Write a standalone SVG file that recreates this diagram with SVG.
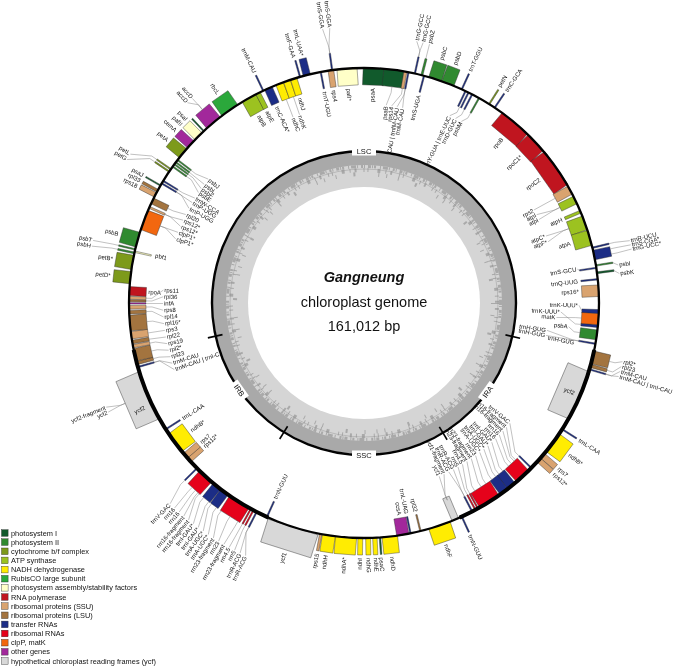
<svg xmlns="http://www.w3.org/2000/svg" width="685" height="666" viewBox="0 0 685 666">
<style>
text{font-family:"Liberation Sans",Arial,Helvetica,sans-serif;fill:#111}
.l{font-size:6px}
.e{text-anchor:end}
.lg{font-size:7.4px}
#genes rect,#legend rect{stroke:#2a2a2a;stroke-width:.4}
.k{fill:none;stroke:#808080;stroke-width:.45}
.p1{fill:#10592b}.p2{fill:#2f8a2f}.cy{fill:#7c9a1a}.at{fill:#9cc21f}.nd{fill:#ffec00}.rb{fill:#2aa83a}.pf{fill:#ffffc8}.rp{fill:#c0141e}.ss{fill:#d9a36e}.ls{fill:#a3733e}.tr{fill:#1b2c86}.rr{fill:#e5001a}.cl{fill:#f2660e}.ot{fill:#a2279b}.yc{fill:#d8d8d8}
</style>
<rect width="685" height="666" fill="#fff"/>
<g opacity="0.995">
<g id="legend">
<rect class="p1" x="1.5" y="529.7" width="6.6" height="6.6"/><text class="lg" x="11" y="535.6">photosystem I</text>
<rect class="p2" x="1.5" y="538.8" width="6.6" height="6.6"/><text class="lg" x="11" y="544.7">photosystem II</text>
<rect class="cy" x="1.5" y="548" width="6.6" height="6.6"/><text class="lg" x="11" y="553.9">cytochrome b/f complex</text>
<rect class="at" x="1.5" y="557.1" width="6.6" height="6.6"/><text class="lg" x="11" y="563">ATP synthase</text>
<rect class="nd" x="1.5" y="566.3" width="6.6" height="6.6"/><text class="lg" x="11" y="572.2">NADH dehydrogenase</text>
<rect class="rb" x="1.5" y="575.4" width="6.6" height="6.6"/><text class="lg" x="11" y="581.3">RubisCO large subunit</text>
<rect class="pf" x="1.5" y="584.5" width="6.6" height="6.6"/><text class="lg" x="11" y="590.4">photosystem assembly/stability factors</text>
<rect class="rp" x="1.5" y="593.7" width="6.6" height="6.6"/><text class="lg" x="11" y="599.6">RNA polymerase</text>
<rect class="ss" x="1.5" y="602.8" width="6.6" height="6.6"/><text class="lg" x="11" y="608.7">ribosomal proteins (SSU)</text>
<rect class="ls" x="1.5" y="612" width="6.6" height="6.6"/><text class="lg" x="11" y="617.9">ribosomal proteins (LSU)</text>
<rect class="tr" x="1.5" y="621.1" width="6.6" height="6.6"/><text class="lg" x="11" y="627">transfer RNAs</text>
<rect class="rr" x="1.5" y="630.2" width="6.6" height="6.6"/><text class="lg" x="11" y="636.1">ribosomal RNAs</text>
<rect class="cl" x="1.5" y="639.4" width="6.6" height="6.6"/><text class="lg" x="11" y="645.3">clpP, matK</text>
<rect class="ot" x="1.5" y="648.5" width="6.6" height="6.6"/><text class="lg" x="11" y="654.4">other genes</text>
<rect class="yc" x="1.5" y="657.7" width="6.6" height="6.6"/><text class="lg" x="11" y="663.6">hypothetical chloroplast reading frames (ycf)</text>
</g>
<g id="genes">
<g id="psaA"><rect class="p1" x="353.55" y="68" width="20.9" height="17" transform="rotate(2.35 364 303)"/><text class="l e" x="579" y="305" transform="rotate(-87.65 364 303)">psaA</text></g>
<g id="psaB"><rect class="p1" x="353.95" y="68" width="20.1" height="17" transform="rotate(7.35 364 303)"/><text class="l e" x="562" y="305" transform="rotate(-83.6 364 303)">psaB</text></g>
<g id="rps14"><rect class="ss" x="362.55" y="68" width="2.9" height="17" transform="rotate(10.15 364 303)"/><text class="l e" x="562" y="305" transform="rotate(-82 364 303)">rps14</text></g>
<g id="trnfM-CAU"><rect class="tr" x="363.3" y="68" width="1.4" height="17" transform="rotate(10.9 364 303)"/><text class="l e" x="562" y="305" transform="rotate(-80.4 364 303)">trnM-CAU | trnfM-CAU</text><text class="l e" x="562" y="305" transform="rotate(-78.8 364 303)">trnM-CAU</text></g>
<g id="trnG-GCC"><rect class="tr" x="363.3" y="51" width="1.4" height="17" transform="rotate(12.5 364 303)"/><text class="l" x="632" y="305" transform="rotate(-78.6 364 303)">trnG-GCC</text><text class="l" x="632" y="305" transform="rotate(-77.2 364 303)">trnG-GCC</text></g>
<g id="psbZ"><rect class="p2" x="363" y="51" width="2" height="17" transform="rotate(14.25 364 303)"/><text class="l" x="632" y="305" transform="rotate(-75.8 364 303)">psbZ</text></g>
<g id="trnS-UGA"><rect class="tr" x="363.3" y="68" width="1.4" height="17" transform="rotate(14.8 364 303)"/><text class="l e" x="579" y="305" transform="rotate(-75.2 364 303)">trnS-UGA</text></g>
<g id="psbC"><rect class="p2" x="357.25" y="51" width="13.5" height="17" transform="rotate(17.65 364 303)"/><text class="l" x="619" y="305" transform="rotate(-72.35 364 303)">psbC</text></g>
<g id="psbD"><rect class="p2" x="357.45" y="51" width="13.1" height="17" transform="rotate(20.9 364 303)"/><text class="l" x="619" y="305" transform="rotate(-69.1 364 303)">psbD</text></g>
<g id="trnT-GGU"><rect class="tr" x="363.3" y="51" width="1.4" height="17" transform="rotate(24.6 364 303)"/><text class="l" x="619" y="305" transform="rotate(-65.4 364 303)">trnT-GGU</text></g>
<g id="trnE-trnY"><rect class="tr" x="363.3" y="68" width="1.4" height="17" transform="rotate(25.6 364 303)"/><rect class="tr" x="363.3" y="68" width="1.4" height="17" transform="rotate(26.4 364 303)"/><text class="l e" x="569" y="305" transform="rotate(-65.4 364 303)">trnY-GUA | trnE-UUC</text></g>
<g id="trnD-GUC"><rect class="tr" x="363.3" y="68" width="1.4" height="17" transform="rotate(27.4 364 303)"/><text class="l e" x="569" y="305" transform="rotate(-63.6 364 303)">trnD-GUC</text></g>
<g id="psbM"><rect class="p2" x="363.3" y="68" width="1.4" height="17" transform="rotate(29.3 364 303)"/><text class="l e" x="569" y="305" transform="rotate(-61.8 364 303)">psbM</text></g>
<g id="petN"><rect class="cy" x="363.3" y="51" width="1.4" height="17" transform="rotate(32.2 364 303)"/><text class="l" x="619" y="305" transform="rotate(-58 364 303)">petN</text></g>
<g id="trnC-GCA"><rect class="tr" x="363.3" y="51" width="1.4" height="17" transform="rotate(33.8 364 303)"/><text class="l" x="619" y="305" transform="rotate(-56.1 364 303)">trnC-GCA</text></g>
<g id="rpoB"><rect class="rp" x="347.6" y="68" width="32.8" height="17" transform="rotate(40 364 303)"/><text class="l e" x="579" y="305" transform="rotate(-50 364 303)">rpoB</text></g>
<g id="rpoC1"><rect class="rp" x="353.15" y="68" width="21.7" height="17" transform="rotate(46.95 364 303)"/><text class="l e" x="579" y="305" transform="rotate(-43.05 364 303)">rpoC1*</text></g>
<g id="rpoC2"><rect class="rp" x="343.9" y="68" width="40.2" height="17" transform="rotate(54.9 364 303)"/><text class="l e" x="579" y="305" transform="rotate(-35.1 364 303)">rpoC2</text></g>
<g id="rps2"><rect class="ss" x="359.5" y="68" width="9" height="17" transform="rotate(61.3 364 303)"/><text class="l e" x="557" y="305" transform="rotate(-28.7 364 303)">rps2</text></g>
<g id="atpI"><rect class="at" x="359.9" y="68" width="8.2" height="17" transform="rotate(64 364 303)"/><text class="l e" x="557" y="305" transform="rotate(-27.1 364 303)">atpI</text><text class="l e" x="557" y="305" transform="rotate(-25.5 364 303)">atpI</text></g>
<g id="atpH"><rect class="at" x="362.55" y="68" width="2.9" height="17" transform="rotate(67.15 364 303)"/><text class="l e" x="579" y="305" transform="rotate(-22.85 364 303)">atpH</text></g>
<g id="atpF"><rect class="at" x="356.8" y="68" width="14.4" height="17" transform="rotate(70.05 364 303)"/><text class="l e" x="557" y="305" transform="rotate(-20.2 364 303)">atpC*</text><text class="l e" x="557" y="305" transform="rotate(-18.4 364 303)">atpF*</text></g>
<g id="atpA"><rect class="at" x="356.2" y="68" width="15.6" height="17" transform="rotate(73.9 364 303)"/><text class="l e" x="579" y="305" transform="rotate(-16.1 364 303)">atpA</text></g>
<g id="trnR-UCU"><rect class="tr" x="363.3" y="51" width="1.4" height="17" transform="rotate(76.4 364 303)"/><text class="l" x="638" y="305" transform="rotate(-13.2 364 303)">trnR-UCU</text></g>
<g id="trnG-UCC"><rect class="tr" x="359.1" y="51" width="9.8" height="17" transform="rotate(78.2 364 303)"/><text class="l" x="638" y="305" transform="rotate(-12.3 364 303)">trnS-CGA*</text><text class="l" x="638" y="305" transform="rotate(-11.4 364 303)">trnG-UCC*</text></g>
<g id="psbI"><rect class="p2" x="363.3" y="51" width="1.4" height="17" transform="rotate(80.8 364 303)"/><text class="l" x="622" y="305" transform="rotate(-8.5 364 303)">psbI</text></g>
<g id="trnS-GCU"><rect class="tr" x="363.3" y="68" width="1.4" height="17" transform="rotate(81.4 364 303)"/><text class="l e" x="579" y="305" transform="rotate(-9 364 303)">trnS-GCU</text></g>
<g id="psbK"><rect class="p1" x="363.1" y="51" width="1.8" height="17" transform="rotate(82.6 364 303)"/><text class="l" x="622" y="305" transform="rotate(-6.6 364 303)">psbK</text></g>
<g id="trnQ-UUG"><rect class="tr" x="363.3" y="68" width="1.4" height="17" transform="rotate(84.2 364 303)"/><text class="l e" x="579" y="305" transform="rotate(-5.7 364 303)">trnQ-UUG</text></g>
<g id="rps16"><rect class="ss" x="358.25" y="68" width="11.5" height="17" transform="rotate(87 364 303)"/><text class="l e" x="579" y="305" transform="rotate(-3 364 303)">rps16*</text></g>
<g id="trnK-UUU"><rect class="tr" x="361.95" y="68" width="4.1" height="17" transform="rotate(92.1 364 303)"/><rect class="tr" x="362.55" y="68" width="2.9" height="17" transform="rotate(95.65 364 303)"/><text class="l e" x="578" y="305" transform="rotate(0.6 364 303)">trnK-UUU*</text><text class="l e" x="560" y="305" transform="rotate(2.6 364 303)">trnK-UUU*</text></g>
<g id="matK"><rect class="cl" x="358.45" y="68" width="11.1" height="17" transform="rotate(93.95 364 303)"/><text class="l e" x="556" y="305" transform="rotate(4.3 364 303)">matK</text></g>
<g id="psbA"><rect class="p2" x="359.1" y="68" width="9.8" height="17" transform="rotate(97.8 364 303)"/><text class="l e" x="569" y="305" transform="rotate(6.6 364 303)">psbA</text></g>
<g id="trnH-GUG"><rect class="tr" x="363.3" y="68" width="1.4" height="17" transform="rotate(100 364 303)"/><text class="l e" x="548" y="305" transform="rotate(8.5 364 303)">trnH-GUG</text><text class="l e" x="548" y="305" transform="rotate(10.1 364 303)">trnH-GUG</text><text class="l e" x="578" y="305" transform="rotate(10.7 364 303)">trnH-GUG</text></g>
<g id="rpl2-IRA"><rect class="ls" x="357.45" y="51" width="13.1" height="17" transform="rotate(103.4 364 303)"/><text class="l" x="630" y="305" transform="rotate(12.8 364 303)">rpl2*</text></g>
<g id="rpl23-IRA"><rect class="ls" x="362.35" y="51" width="3.3" height="17" transform="rotate(105.5 364 303)"/><text class="l" x="630" y="305" transform="rotate(13.9 364 303)">rpl23</text></g>
<g id="trnI-CAU-IRA"><rect class="tr" x="363.3" y="51" width="1.4" height="17" transform="rotate(106.4 364 303)"/><text class="l" x="630" y="305" transform="rotate(15 364 303)">trnM-CAU</text><text class="l" x="630" y="305" transform="rotate(16.1 364 303)">trnM-CAU | trnI-CAU</text></g>
<g id="ycf2-IRA"><rect class="yc" x="338.35" y="68" width="51.3" height="24" transform="rotate(113.25 364 303)"/><text class="l e" x="593" y="305" transform="rotate(23.25 364 303)">ycf2</text></g>
<g id="trnL-CAA-IRA"><rect class="tr" x="363.3" y="51" width="1.4" height="17" transform="rotate(122.5 364 303)"/><text class="l" x="619" y="305" transform="rotate(32.5 364 303)">trnL-CAA</text></g>
<g id="ndhB-IRA"><rect class="nd" x="352.95" y="51" width="22.1" height="17" transform="rotate(126.5 364 303)"/><text class="l" x="619" y="305" transform="rotate(36.5 364 303)">ndhB*</text></g>
<g id="rps7-IRA"><rect class="ss" x="360.9" y="51" width="6.2" height="17" transform="rotate(130.55 364 303)"/><text class="l" x="619" y="305" transform="rotate(40.4 364 303)">rps7</text></g>
<g id="rps12-IRA"><rect class="ss" x="361.35" y="51" width="5.3" height="17" transform="rotate(131.95 364 303)"/><text class="l" x="619" y="305" transform="rotate(42 364 303)">rps12*</text></g>
<g id="trnV-GAC-IRA"><rect class="tr" x="363.3" y="68" width="1.4" height="17" transform="rotate(134.6 364 303)"/><text class="l e" x="552" y="305" transform="rotate(39.5 364 303)">trnV-GAC</text></g>
<g id="rrn16-IRA"><rect class="rr" x="355.8" y="68" width="16.4" height="17" transform="rotate(137.5 364 303)"/><text class="l e" x="552" y="305" transform="rotate(41.09 364 303)">rrn16-fragment</text><text class="l e" x="552" y="305" transform="rotate(42.68 364 303)">rrn16-fragment</text><text class="l e" x="552" y="305" transform="rotate(44.27 364 303)">rrn16</text><text class="l e" x="552" y="305" transform="rotate(45.86 364 303)">rrn16</text></g>
<g id="trnI-GAU-IRA"><rect class="tr" x="359.3" y="68" width="9.4" height="17" transform="rotate(141.15 364 303)"/><text class="l e" x="552" y="305" transform="rotate(47.45 364 303)">trnI-GAU*</text><text class="l e" x="552" y="305" transform="rotate(49.04 364 303)">trnI-GAU*</text></g>
<g id="trnA-UGC-IRA"><rect class="tr" x="359.3" y="68" width="9.4" height="17" transform="rotate(143.45 364 303)"/><text class="l e" x="552" y="305" transform="rotate(50.63 364 303)">trnA-UGC*</text><text class="l e" x="552" y="305" transform="rotate(52.22 364 303)">trnA-UGC*</text></g>
<g id="rrn23-IRA"><rect class="rr" x="352.7" y="68" width="22.6" height="17" transform="rotate(147.75 364 303)"/><text class="l e" x="552" y="305" transform="rotate(53.81 364 303)">rrn23</text><text class="l e" x="552" y="305" transform="rotate(55.4 364 303)">rrn23-fragment</text><text class="l e" x="552" y="305" transform="rotate(56.99 364 303)">rrn23-fragment</text></g>
<g id="rrn4.5-IRA"><rect class="rr" x="363.3" y="68" width="1.4" height="17" transform="rotate(151 364 303)"/><text class="l e" x="552" y="305" transform="rotate(58.58 364 303)">rrn4.5</text></g>
<g id="rrn5-IRA"><rect class="rr" x="363.3" y="68" width="1.4" height="17" transform="rotate(151.7 364 303)"/><text class="l e" x="552" y="305" transform="rotate(60.17 364 303)">rrn5</text></g>
<g id="trnR-ACG-IRA"><rect class="tr" x="363.3" y="68" width="1.4" height="17" transform="rotate(152.6 364 303)"/><text class="l e" x="552" y="305" transform="rotate(61.76 364 303)">trnR-ACG</text><text class="l e" x="552" y="305" transform="rotate(63.35 364 303)">trnR-ACG</text></g>
<g id="trnN-GUU-IRA"><rect class="tr" x="363.3" y="51" width="1.4" height="17" transform="rotate(155.4 364 303)"/><text class="l" x="619" y="305" transform="rotate(65.5 364 303)">trnN-GUU</text></g>
<g id="ycf1-fragment"><rect class="yc" x="360.5" y="68" width="7" height="24" transform="rotate(157.15 364 303)"/><text class="l e" x="552" y="305" transform="rotate(64.94 364 303)">ycf1-fragment</text><text class="l e" x="552" y="305" transform="rotate(66.53 364 303)">ycf1</text></g>
<g id="ndhF"><rect class="nd" x="352.7" y="51" width="22.6" height="17" transform="rotate(161.25 364 303)"/><text class="l" x="619" y="305" transform="rotate(71.25 364 303)">ndhF</text></g>
<g id="rpl32"><rect class="ls" x="363.3" y="68" width="1.4" height="17" transform="rotate(166.1 364 303)"/><text class="l e" x="579" y="305" transform="rotate(76.1 364 303)">rpl32</text></g>
<g id="trnL-UAG"><rect class="tr" x="363.3" y="68" width="1.4" height="17" transform="rotate(168.6 364 303)"/><text class="l e" x="579" y="305" transform="rotate(78.6 364 303)">trnL-UAG</text></g>
<g id="ccsA"><rect class="ot" x="357.85" y="68" width="12.3" height="17" transform="rotate(170.5 364 303)"/><text class="l e" x="579" y="305" transform="rotate(80.5 364 303)">ccsA</text></g>
<g id="ndhD"><rect class="nd" x="356.2" y="51" width="15.6" height="17" transform="rotate(173.7 364 303)"/><text class="l" x="619" y="305" transform="rotate(83.7 364 303)">ndhD</text></g>
<g id="psaC"><rect class="p1" x="363.2" y="51" width="1.6" height="17" transform="rotate(176.1 364 303)"/><text class="l" x="619" y="305" transform="rotate(86.1 364 303)">psaC</text></g>
<g id="ndhE"><rect class="nd" x="361.75" y="51" width="4.5" height="17" transform="rotate(177.35 364 303)"/><text class="l" x="619" y="305" transform="rotate(87.35 364 303)">ndhE</text></g>
<g id="ndhG"><rect class="nd" x="361.55" y="51" width="4.9" height="17" transform="rotate(179 364 303)"/><text class="l" x="619" y="305" transform="rotate(89 364 303)">ndhG</text></g>
<g id="ndhI"><rect class="nd" x="361.55" y="51" width="4.9" height="17" transform="rotate(180.9 364 303)"/><text class="l e" x="109" y="305" transform="rotate(-89.1 364 303)">ndhI</text></g>
<g id="ndhA"><rect class="nd" x="353.35" y="51" width="21.3" height="17" transform="rotate(184.4 364 303)"/><text class="l e" x="109" y="305" transform="rotate(-85.6 364 303)">ndhA*</text></g>
<g id="ndhH"><rect class="nd" x="357.45" y="51" width="13.1" height="17" transform="rotate(188.6 364 303)"/><text class="l e" x="109" y="305" transform="rotate(-81.4 364 303)">ndhH</text></g>
<g id="rps15"><rect class="ss" x="362.75" y="51" width="2.5" height="17" transform="rotate(190.6 364 303)"/><text class="l e" x="109" y="305" transform="rotate(-79.4 364 303)">rps15</text></g>
<g id="ycf1"><rect class="yc" x="337.75" y="44" width="52.5" height="24" transform="rotate(197.6 364 303)"/><text class="l e" x="102" y="305" transform="rotate(-72.4 364 303)">ycf1</text></g>
<g id="trnN-GUU-IRB"><rect class="tr" x="363.3" y="68" width="1.4" height="17" transform="rotate(204.4 364 303)"/><text class="l" x="149" y="305" transform="rotate(-65.6 364 303)">trnN-GUU</text></g>
<g id="trnR-ACG-IRB"><rect class="tr" x="363.3" y="51" width="1.4" height="17" transform="rotate(207.2 364 303)"/><text class="l e" x="84" y="305" transform="rotate(-63.64 364 303)">trnR-ACG</text><text class="l e" x="84" y="305" transform="rotate(-64.9 364 303)">trnR-ACG</text></g>
<g id="rrn5-IRB"><rect class="rr" x="363.3" y="51" width="1.4" height="17" transform="rotate(208.1 364 303)"/><text class="l e" x="84" y="305" transform="rotate(-62.38 364 303)">rrn5</text></g>
<g id="rrn4.5-IRB"><rect class="rr" x="363.3" y="51" width="1.4" height="17" transform="rotate(208.8 364 303)"/><text class="l e" x="84" y="305" transform="rotate(-61.12 364 303)">rrn4.5</text></g>
<g id="rrn23-IRB"><rect class="rr" x="352.5" y="51" width="23" height="17" transform="rotate(212.1 364 303)"/><text class="l e" x="84" y="305" transform="rotate(-57.34 364 303)">rrn23-fragment</text><text class="l e" x="84" y="305" transform="rotate(-58.6 364 303)">rrn23</text><text class="l e" x="84" y="305" transform="rotate(-59.86 364 303)">rrn23-fragment</text></g>
<g id="trnA-UGC-IRB"><rect class="tr" x="359.3" y="51" width="9.4" height="17" transform="rotate(216.45 364 303)"/><text class="l e" x="84" y="305" transform="rotate(-54.82 364 303)">trnA-UGC*</text><text class="l e" x="84" y="305" transform="rotate(-56.08 364 303)">trnA-UGC*</text></g>
<g id="trnI-GAU-IRB"><rect class="tr" x="359.3" y="51" width="9.4" height="17" transform="rotate(218.75 364 303)"/><text class="l e" x="84" y="305" transform="rotate(-52.3 364 303)">trnI-GAU*</text><text class="l e" x="84" y="305" transform="rotate(-53.56 364 303)">trnI-GAU*</text></g>
<g id="rrn16-IRB"><rect class="rr" x="355.8" y="51" width="16.4" height="17" transform="rotate(222.4 364 303)"/><text class="l e" x="84" y="305" transform="rotate(-47.26 364 303)">rrn16</text><text class="l e" x="84" y="305" transform="rotate(-48.52 364 303)">rrn16</text><text class="l e" x="84" y="305" transform="rotate(-49.78 364 303)">rrn16-fragment</text><text class="l e" x="84" y="305" transform="rotate(-51.04 364 303)">rrn16-fragment</text></g>
<g id="trnV-GAC-IRB"><rect class="tr" x="363.3" y="51" width="1.4" height="17" transform="rotate(225.3 364 303)"/><text class="l e" x="84" y="305" transform="rotate(-46 364 303)">trnV-GAC</text></g>
<g id="rps12-IRB"><rect class="ss" x="361.35" y="68" width="5.3" height="17" transform="rotate(228.05 364 303)"/><text class="l" x="149" y="305" transform="rotate(-41.95 364 303)">rps12*</text></g>
<g id="rps7-IRB"><rect class="ss" x="360.9" y="68" width="6.2" height="17" transform="rotate(229.45 364 303)"/><text class="l" x="149" y="305" transform="rotate(-40.55 364 303)">rps7</text></g>
<g id="ndhB-IRB"><rect class="nd" x="352.95" y="68" width="22.1" height="17" transform="rotate(233.5 364 303)"/><text class="l" x="149" y="305" transform="rotate(-36.5 364 303)">ndhB*</text></g>
<g id="trnL-CAA-IRB"><rect class="tr" x="363.3" y="68" width="1.4" height="17" transform="rotate(237.5 364 303)"/><text class="l" x="149" y="305" transform="rotate(-32.5 364 303)">trnL-CAA</text></g>
<g id="ycf2-IRB"><rect class="yc" x="338.35" y="44" width="51.3" height="24" transform="rotate(246.75 364 303)"/><text class="l e" x="121" y="305" transform="rotate(-25.5 364 303)">ycf2</text><text class="l e" x="85" y="305" transform="rotate(-22 364 303)">ycf2-fragment</text><text class="l e" x="85" y="305" transform="rotate(-23.1 364 303)">ycf2</text></g>
<g id="trnI-CAU-IRB"><rect class="tr" x="363.3" y="68" width="1.4" height="17" transform="rotate(254.2 364 303)"/><text class="l" x="164" y="305" transform="rotate(-17.42 364 303)">trnM-CAU</text><text class="l" x="164" y="305" transform="rotate(-19.34 364 303)">trnM-CAU | trnI-CAU</text></g>
<g id="rpl23-IRB"><rect class="ls" x="362.35" y="68" width="3.3" height="17" transform="rotate(255.2 364 303)"/><text class="l" x="164" y="305" transform="rotate(-15.5 364 303)">rpl23</text></g>
<g id="rpl2-IRB"><rect class="ls" x="357.65" y="68" width="12.7" height="17" transform="rotate(257.25 364 303)"/><text class="l" x="164" y="305" transform="rotate(-13.58 364 303)">rpl2*</text></g>
<g id="rps19"><rect class="ss" x="362.35" y="68" width="3.3" height="17" transform="rotate(259.4 364 303)"/><text class="l" x="164" y="305" transform="rotate(-11.66 364 303)">rps19</text></g>
<g id="rpl22"><rect class="ls" x="362.15" y="68" width="3.7" height="17" transform="rotate(260.45 364 303)"/><text class="l" x="164" y="305" transform="rotate(-9.74 364 303)">rpl22</text></g>
<g id="rps3"><rect class="ss" x="360.3" y="68" width="7.4" height="17" transform="rotate(262.1 364 303)"/><text class="l" x="164" y="305" transform="rotate(-7.82 364 303)">rps3</text></g>
<g id="rpl16"><rect class="ls" x="356.2" y="68" width="15.6" height="17" transform="rotate(265.1 364 303)"/><text class="l" x="164" y="305" transform="rotate(-5.9 364 303)">rpl16*</text></g>
<g id="rpl14"><rect class="ls" x="362.15" y="68" width="3.7" height="17" transform="rotate(267.75 364 303)"/><text class="l" x="164" y="305" transform="rotate(-3.98 364 303)">rpl14</text></g>
<g id="rps8"><rect class="ss" x="362.15" y="68" width="3.7" height="17" transform="rotate(268.95 364 303)"/><text class="l" x="164" y="305" transform="rotate(-2.06 364 303)">rps8</text></g>
<g id="infA"><rect class="ot" x="363.3" y="68" width="1.4" height="17" transform="rotate(269.9 364 303)"/><text class="l" x="164" y="305" transform="rotate(-0.14 364 303)">infA</text></g>
<g id="rpl36"><rect class="ls" x="363" y="68" width="2" height="17" transform="rotate(270.55 364 303)"/><text class="l" x="164" y="305" transform="rotate(1.78 364 303)">rpl36</text></g>
<g id="rps11"><rect class="ss" x="362.55" y="68" width="2.9" height="17" transform="rotate(271.25 364 303)"/><text class="l" x="164" y="305" transform="rotate(3.7 364 303)">rps11</text></g>
<g id="rpoA"><rect class="rp" x="359.5" y="68" width="9" height="17" transform="rotate(272.9 364 303)"/><text class="l" x="148" y="305" transform="rotate(2.9 364 303)">rpoA</text></g>
<g id="petD"><rect class="cy" x="357.85" y="51" width="12.3" height="17" transform="rotate(276.2 364 303)"/><text class="l e" x="109" y="305" transform="rotate(6.2 364 303)">petD*</text></g>
<g id="petB"><rect class="cy" x="356.8" y="51" width="14.4" height="17" transform="rotate(279.95 364 303)"/><text class="l e" x="109" y="305" transform="rotate(9.95 364 303)">petB*</text></g>
<g id="psbH"><rect class="p2" x="363.1" y="51" width="1.8" height="17" transform="rotate(282.3 364 303)"/><text class="l e" x="85" y="305" transform="rotate(11.8 364 303)">psbH</text></g>
<g id="pbf1"><rect class="pf" x="363.3" y="68" width="1.4" height="17" transform="rotate(282.6 364 303)"/><text class="l" x="150" y="305" transform="rotate(12.8 364 303)">pbf1</text></g>
<g id="psbT"><rect class="p2" x="363.3" y="51" width="1.4" height="17" transform="rotate(283.2 364 303)"/><text class="l e" x="85" y="305" transform="rotate(13 364 303)">psbT</text></g>
<g id="psbB"><rect class="p2" x="356.4" y="51" width="15.2" height="17" transform="rotate(285.65 364 303)"/><text class="l e" x="109" y="305" transform="rotate(15.65 364 303)">psbB</text></g>
<g id="clpP"><rect class="cl" x="353.75" y="68" width="20.5" height="17" transform="rotate(290.7 364 303)"/><text class="l" x="166" y="305" transform="rotate(20.8 364 303)">clpP1*</text><text class="l" x="166" y="305" transform="rotate(18.8 364 303)">clpP1*</text></g>
<g id="rps12-5"><rect class="ss" x="363" y="68" width="2" height="17" transform="rotate(294 364 303)"/><text class="l" x="166" y="305" transform="rotate(24.6 364 303)">rps12*</text><text class="l" x="166" y="305" transform="rotate(22.7 364 303)">rps12*</text></g>
<g id="rpl20"><rect class="ls" x="360.9" y="68" width="6.2" height="17" transform="rotate(295.75 364 303)"/><text class="l" x="166" y="305" transform="rotate(26.4 364 303)">rpl20</text></g>
<g id="rps18"><rect class="ss" x="361.55" y="51" width="4.9" height="17" transform="rotate(297.4 364 303)"/><text class="l e" x="109" y="305" transform="rotate(27.2 364 303)">rps18</text></g>
<g id="rpl33"><rect class="ls" x="362.55" y="51" width="2.9" height="17" transform="rotate(298.55 364 303)"/><text class="l e" x="109" y="305" transform="rotate(28.6 364 303)">rpl33</text></g>
<g id="psaJ"><rect class="p1" x="363.3" y="51" width="1.4" height="17" transform="rotate(300 364 303)"/><text class="l e" x="109" y="305" transform="rotate(30 364 303)">psaJ</text></g>
<g id="trnP-UGG"><rect class="tr" x="363.3" y="68" width="1.4" height="17" transform="rotate(300.6 364 303)"/><text class="l" x="166" y="305" transform="rotate(30.3 364 303)">trnP-UGG</text><text class="l" x="166" y="305" transform="rotate(28.4 364 303)">trnP-UGG</text></g>
<g id="trnW-CCA"><rect class="tr" x="363.3" y="68" width="1.4" height="17" transform="rotate(301.3 364 303)"/><text class="l" x="166" y="305" transform="rotate(31.8 364 303)">trnW-CCA</text></g>
<g id="petG"><rect class="cy" x="363.3" y="51" width="1.4" height="17" transform="rotate(304 364 303)"/><text class="l e" x="86" y="305" transform="rotate(31.2 364 303)">petG</text></g>
<g id="petL"><rect class="cy" x="363.3" y="51" width="1.4" height="17" transform="rotate(304.7 364 303)"/><text class="l e" x="86" y="305" transform="rotate(32.5 364 303)">petL</text></g>
<g id="psbE"><rect class="p2" x="363.3" y="68" width="1.4" height="17" transform="rotate(305.5 364 303)"/><text class="l" x="166" y="305" transform="rotate(33.7 364 303)">psbE</text></g>
<g id="psbF"><rect class="p2" x="363.3" y="68" width="1.4" height="17" transform="rotate(306.2 364 303)"/><text class="l" x="166" y="305" transform="rotate(35.1 364 303)">psbF</text></g>
<g id="psbL"><rect class="p2" x="363.3" y="68" width="1.4" height="17" transform="rotate(306.8 364 303)"/><text class="l" x="166" y="305" transform="rotate(36.6 364 303)">psbL</text></g>
<g id="psbJ"><rect class="p2" x="363.3" y="68" width="1.4" height="17" transform="rotate(307.5 364 303)"/><text class="l" x="166" y="305" transform="rotate(38.5 364 303)">psbJ</text></g>
<g id="petA"><rect class="cy" x="358.25" y="51" width="11.5" height="17" transform="rotate(309.6 364 303)"/><text class="l e" x="109" y="305" transform="rotate(39.6 364 303)">petA</text></g>
<g id="cemA"><rect class="ot" x="359.3" y="51" width="9.4" height="17" transform="rotate(312.45 364 303)"/><text class="l e" x="109" y="305" transform="rotate(42.45 364 303)">cemA</text></g>
<g id="pafII"><rect class="pf" x="359.1" y="51" width="9.8" height="17" transform="rotate(315.2 364 303)"/><text class="l e" x="109" y="305" transform="rotate(44.3 364 303)">pafII</text></g>
<g id="psaI"><rect class="p1" x="363.3" y="51" width="1.4" height="17" transform="rotate(317 364 303)"/><text class="l e" x="109" y="305" transform="rotate(45.9 364 303)">psaI</text></g>
<g id="accD"><rect class="ot" x="355.2" y="51" width="17.6" height="17" transform="rotate(320.15 364 303)"/><text class="l e" x="96" y="305" transform="rotate(48.6 364 303)">accD</text><text class="l e" x="96" y="305" transform="rotate(50 364 303)">accD</text></g>
<g id="rbcL"><rect class="rb" x="354.35" y="51" width="19.3" height="17" transform="rotate(325.15 364 303)"/><text class="l e" x="109" y="305" transform="rotate(55.15 364 303)">rbcL</text></g>
<g id="atpB"><rect class="at" x="356.2" y="68" width="15.6" height="17" transform="rotate(330.7 364 303)"/><text class="l" x="149" y="305" transform="rotate(60.7 364 303)">atpB</text></g>
<g id="atpE"><rect class="at" x="361.55" y="68" width="4.9" height="17" transform="rotate(333.2 364 303)"/><text class="l" x="149" y="305" transform="rotate(63.2 364 303)">atpE</text></g>
<g id="trnM-CAU"><rect class="tr" x="363.3" y="51" width="1.4" height="17" transform="rotate(334.6 364 303)"/><text class="l e" x="109" y="305" transform="rotate(64.6 364 303)">trnM-CAU</text></g>
<g id="trnV-UAC"><rect class="tr" x="359.9" y="68" width="8.2" height="17" transform="rotate(336 364 303)"/><text class="l" x="149" y="305" transform="rotate(66 364 303)">trnC-ACA*</text></g>
<g id="ndhC"><rect class="nd" x="360.1" y="68" width="7.8" height="17" transform="rotate(338.95 364 303)"/><text class="l" x="166" y="305" transform="rotate(69.1 364 303)">ndhC</text></g>
<g id="ndhK"><rect class="nd" x="360.5" y="68" width="7" height="17" transform="rotate(340.85 364 303)"/><text class="l" x="166" y="305" transform="rotate(71.1 364 303)">ndhK</text></g>
<g id="ndhJ"><rect class="nd" x="360.7" y="68" width="6.6" height="17" transform="rotate(342.6 364 303)"/><text class="l" x="149" y="305" transform="rotate(72.6 364 303)">ndhJ</text></g>
<g id="trnF-GAA"><rect class="tr" x="363.3" y="51" width="1.4" height="17" transform="rotate(344.2 364 303)"/><text class="l e" x="109" y="305" transform="rotate(74 364 303)">trnF-GAA</text></g>
<g id="trnL-UAA"><rect class="tr" x="360.3" y="51" width="7.4" height="17" transform="rotate(345.9 364 303)"/><text class="l e" x="109" y="305" transform="rotate(75.9 364 303)">trnL-UAA*</text></g>
<g id="trnT-UGU"><rect class="tr" x="363.3" y="68" width="1.4" height="17" transform="rotate(349.4 364 303)"/><text class="l" x="149" y="305" transform="rotate(79.4 364 303)">trnT-UGU</text></g>
<g id="rps4"><rect class="ss" x="361.15" y="68" width="5.7" height="17" transform="rotate(351.9 364 303)"/><text class="l" x="149" y="305" transform="rotate(81.9 364 303)">rps4</text></g>
<g id="trnS-GGA"><rect class="tr" x="363.3" y="51" width="1.4" height="17" transform="rotate(352.2 364 303)"/><text class="l e" x="86" y="305" transform="rotate(81.4 364 303)">trnS-GGA</text><text class="l e" x="86" y="305" transform="rotate(82.9 364 303)">trnS-GGA</text></g>
<g id="pafI"><rect class="pf" x="353.95" y="68" width="20.1" height="17" transform="rotate(355.85 364 303)"/><text class="l" x="149" y="305" transform="rotate(85.85 364 303)">pafI*</text></g>
</g>
<g id="connectors">
<path class="k" d="M582 306.6L576 306.5L563 303" transform="rotate(-83.6 364 303)"/>
<path class="k" d="M582 311.2L576 311L563 303" transform="rotate(-82 364 303)"/>
<path class="k" d="M582 307.9L576 307.8L563 303" transform="rotate(-80.4 364 303)"/>
<path class="k" d="M582 301.9L576 301.9L563 303" transform="rotate(-78.8 364 303)"/>
<path class="k" d="M616 307.8L622 308L631 303" transform="rotate(-78.6 364 303)"/>
<path class="k" d="M616 301.7L622 301.6L631 303" transform="rotate(-77.2 364 303)"/>
<path class="k" d="M616 303L631 303" transform="rotate(-75.8 364 303)"/>
<path class="k" d="M582 308.3L576 308.2L570 303" transform="rotate(-65.4 364 303)"/>
<path class="k" d="M582 306.8L576 306.7L570 303" transform="rotate(-63.6 364 303)"/>
<path class="k" d="M582 307.2L576 307.1L570 303" transform="rotate(-61.8 364 303)"/>
<path class="k" d="M582 303L558 303" transform="rotate(-28.7 364 303)"/>
<path class="k" d="M582 307.2L576 307.1L558 303" transform="rotate(-27.1 364 303)"/>
<path class="k" d="M582 301.1L576 301.1L558 303" transform="rotate(-25.5 364 303)"/>
<path class="k" d="M582 304L576 303.9L558 303" transform="rotate(-20.2 364 303)"/>
<path class="k" d="M582 297.1L576 297.3L558 303" transform="rotate(-18.4 364 303)"/>
<path class="k" d="M616 301.2L622 301.2L637 303" transform="rotate(-13.2 364 303)"/>
<path class="k" d="M616 302.6L622 302.6L637 303" transform="rotate(-12.3 364 303)"/>
<path class="k" d="M616 303.9L622 303.9L637 303" transform="rotate(-11.4 364 303)"/>
<path class="k" d="M616 299.9L621 303" transform="rotate(-8.5 364 303)"/>
<path class="k" d="M616 299.5L621 303" transform="rotate(-6.6 364 303)"/>
<path class="k" d="M582 304.5L580 303" transform="rotate(-9 364 303)"/>
<path class="k" d="M582 308.7L579 303" transform="rotate(0.6 364 303)"/>
<path class="k" d="M582 314.6L576 314.3L561 303" transform="rotate(2.6 364 303)"/>
<path class="k" d="M582 301.7L576 301.7L557 303" transform="rotate(4.3 364 303)"/>
<path class="k" d="M582 307.6L576 307.4L570 303" transform="rotate(6.6 364 303)"/>
<path class="k" d="M582 308.7L576 308.6L549 303" transform="rotate(8.5 364 303)"/>
<path class="k" d="M582 302.8L549 303" transform="rotate(10.1 364 303)"/>
<path class="k" d="M616 305.6L622 305.7L629 303" transform="rotate(12.8 364 303)"/>
<path class="k" d="M616 310L622 310.2L629 303" transform="rotate(13.9 364 303)"/>
<path class="k" d="M616 309.2L622 309.3L629 303" transform="rotate(15 364 303)"/>
<path class="k" d="M616 304.3L622 304.4L629 303" transform="rotate(16.1 364 303)"/>
<path class="k" d="M581.1 322.4L575.2 321.9L553 303" transform="rotate(39.5 364 303)"/>
<path class="k" d="M581.2 321.6L575.2 321.1L553 303" transform="rotate(41.09 364 303)"/>
<path class="k" d="M581.5 317.5L575.5 317.1L553 303" transform="rotate(42.68 364 303)"/>
<path class="k" d="M581.7 315.2L575.7 314.8L553 303" transform="rotate(44.27 364 303)"/>
<path class="k" d="M581.8 312.9L575.8 312.6L553 303" transform="rotate(45.86 364 303)"/>
<path class="k" d="M581.7 314.4L575.7 314.1L553 303" transform="rotate(47.45 364 303)"/>
<path class="k" d="M581.8 313.3L575.8 313L553 303" transform="rotate(49.04 364 303)"/>
<path class="k" d="M581.8 311.4L575.8 311.1L553 303" transform="rotate(50.63 364 303)"/>
<path class="k" d="M581.9 310.2L575.9 310L553 303" transform="rotate(52.22 364 303)"/>
<path class="k" d="M581.8 311.4L575.8 311.1L553 303" transform="rotate(53.81 364 303)"/>
<path class="k" d="M581.9 311L575.9 310.8L553 303" transform="rotate(55.4 364 303)"/>
<path class="k" d="M581.8 312.5L575.8 312.2L553 303" transform="rotate(56.99 364 303)"/>
<path class="k" d="M581.8 312.1L575.8 311.9L553 303" transform="rotate(58.58 364 303)"/>
<path class="k" d="M581.9 308.7L575.9 308.6L553 303" transform="rotate(60.17 364 303)"/>
<path class="k" d="M582 306L576 306L553 303" transform="rotate(61.76 364 303)"/>
<path class="k" d="M582 300L576 300L553 303" transform="rotate(63.35 364 303)"/>
<path class="k" d="M578 311L572 310.8L553 303" transform="rotate(64.94 364 303)"/>
<path class="k" d="M578 305.1L572 305L553 303" transform="rotate(66.53 364 303)"/>
<path class="k" d="M112 297.3L106 297.1L85 303" transform="rotate(-46 364 303)"/>
<path class="k" d="M112 301.9L106 301.8L85 303" transform="rotate(-47.26 364 303)"/>
<path class="k" d="M112 300.7L106 300.7L85 303" transform="rotate(-48.52 364 303)"/>
<path class="k" d="M112 298.7L106 298.6L85 303" transform="rotate(-49.78 364 303)"/>
<path class="k" d="M112 294.9L106 294.7L85 303" transform="rotate(-51.04 364 303)"/>
<path class="k" d="M112 295.1L106 294.9L85 303" transform="rotate(-52.3 364 303)"/>
<path class="k" d="M112 296.1L106 296L85 303" transform="rotate(-53.56 364 303)"/>
<path class="k" d="M112 294.1L106 293.9L85 303" transform="rotate(-54.82 364 303)"/>
<path class="k" d="M112 294.7L106 294.5L85 303" transform="rotate(-56.08 364 303)"/>
<path class="k" d="M112 294.9L106 294.7L85 303" transform="rotate(-57.34 364 303)"/>
<path class="k" d="M112 299.9L106 299.8L85 303" transform="rotate(-58.6 364 303)"/>
<path class="k" d="M112 303.6L106 303.6L85 303" transform="rotate(-59.86 364 303)"/>
<path class="k" d="M112 303.2L106 303.2L85 303" transform="rotate(-61.12 364 303)"/>
<path class="k" d="M112 300.9L106 300.8L85 303" transform="rotate(-62.38 364 303)"/>
<path class="k" d="M112 299.3L106 299.2L85 303" transform="rotate(-63.64 364 303)"/>
<path class="k" d="M112 293.8L106 293.6L85 303" transform="rotate(-64.9 364 303)"/>
<path class="k" d="M105 306.6L100 306.7L86 303" transform="rotate(-22 364 303)"/>
<path class="k" d="M105 301.6L100 301.6L86 303" transform="rotate(-23.1 364 303)"/>
<path class="k" d="M146 312.3L152 312.1L163 303" transform="rotate(3.7 364 303)"/>
<path class="k" d="M146 307.7L152 307.6L163 303" transform="rotate(1.78 364 303)"/>
<path class="k" d="M146 303L163 303" transform="rotate(-0.14 364 303)"/>
<path class="k" d="M146 299.2L152 299.3L163 303" transform="rotate(-2.06 364 303)"/>
<path class="k" d="M146 296.4L152 296.6L163 303" transform="rotate(-3.98 364 303)"/>
<path class="k" d="M146 299.2L152 299.3L163 303" transform="rotate(-5.9 364 303)"/>
<path class="k" d="M146 303.3L163 303" transform="rotate(-7.82 364 303)"/>
<path class="k" d="M146 302.3L163 303" transform="rotate(-9.74 364 303)"/>
<path class="k" d="M146 299L152 299.1L163 303" transform="rotate(-11.66 364 303)"/>
<path class="k" d="M146 299.8L152 299.9L163 303" transform="rotate(-13.58 364 303)"/>
<path class="k" d="M146 300.3L152 300.4L163 303" transform="rotate(-15.5 364 303)"/>
<path class="k" d="M146 296.8L152 297L163 303" transform="rotate(-17.42 364 303)"/>
<path class="k" d="M146 289.5L152 289.9L163 303" transform="rotate(-19.34 364 303)"/>
<path class="k" d="M112 300.8L106 300.8L86 303" transform="rotate(11.8 364 303)"/>
<path class="k" d="M112 302.1L106 302.1L86 303" transform="rotate(13 364 303)"/>
<path class="k" d="M146 306.8L152 306.7L165 303" transform="rotate(38.5 364 303)"/>
<path class="k" d="M146 302.2L165 303" transform="rotate(36.6 364 303)"/>
<path class="k" d="M146 298.8L152 298.9L165 303" transform="rotate(35.1 364 303)"/>
<path class="k" d="M146 296.2L152 296.3L165 303" transform="rotate(33.7 364 303)"/>
<path class="k" d="M146 304.9L152 304.9L165 303" transform="rotate(31.8 364 303)"/>
<path class="k" d="M146 301.9L165 303" transform="rotate(30.3 364 303)"/>
<path class="k" d="M146 294.6L152 294.9L165 303" transform="rotate(28.4 364 303)"/>
<path class="k" d="M146 305.5L152 305.4L165 303" transform="rotate(26.4 364 303)"/>
<path class="k" d="M146 305.3L152 305.2L165 303" transform="rotate(24.6 364 303)"/>
<path class="k" d="M146 298.1L152 298.2L165 303" transform="rotate(22.7 364 303)"/>
<path class="k" d="M146 303.4L165 303" transform="rotate(20.8 364 303)"/>
<path class="k" d="M146 295.8L152 296L165 303" transform="rotate(18.8 364 303)"/>
<path class="k" d="M112 293.3L106 293.1L87 303" transform="rotate(32.5 364 303)"/>
<path class="k" d="M112 290.7L106 290.4L87 303" transform="rotate(31.2 364 303)"/>
<path class="k" d="M112 296.2L106 296L97 303" transform="rotate(48.6 364 303)"/>
<path class="k" d="M112 302.6L106 302.6L97 303" transform="rotate(50 364 303)"/>
<path class="k" d="M146 303L165 303" transform="rotate(69.1 364 303)"/>
<path class="k" d="M146 303L165 303" transform="rotate(71.1 364 303)"/>
<path class="k" d="M112 299.5L106 299.4L87 303" transform="rotate(81.4 364 303)"/>
<path class="k" d="M112 306.1L106 306.2L87 303" transform="rotate(82.9 364 303)"/>
</g>
<g id="ring">
<circle cx="364" cy="303" r="235" fill="none" stroke="#000" stroke-width="2.3"/>
<path d="M594.3 349.9A235 235 0 0 1 459.6 517.7" fill="none" stroke="#000" stroke-width="4"/>
<path d="M268.4 517.7A235 235 0 0 1 133.7 349.9" fill="none" stroke="#000" stroke-width="4"/>
</g>
<g id="gc">
<circle cx="364" cy="303" r="151" fill="#d5d5d5"/>
<circle cx="364" cy="303" r="144.5" fill="none" stroke="#a9a9a9" stroke-width="13"/>
<circle cx="364" cy="303" r="136.5" fill="none" stroke="#a9a9a9" stroke-width="3" stroke-dasharray="2 1 1 3 3 1 1 1 2 4 1 2 5 1 1 3"/>
<circle cx="364" cy="303" r="133" fill="none" stroke="#a9a9a9" stroke-width="4" stroke-dasharray="1 4 2 7 1 3 1 9 3 5"/>
<circle cx="364" cy="303" r="129" fill="none" stroke="#a9a9a9" stroke-width="4" stroke-dasharray="1 11 1 17 2 23 1 7"/>
<circle cx="364" cy="303" r="134" fill="none" stroke="#8c8c8c" stroke-width=".4"/>
<circle cx="364" cy="303" r="116" fill="#fff"/>
<circle cx="364" cy="303" r="152" fill="none" stroke="#000" stroke-width="2.4"/>
<g stroke="#000" stroke-width="1.6">
<line x1="364" y1="143" x2="364" y2="158" transform="rotate(102.7 364 303)"/>
<line x1="364" y1="143" x2="364" y2="158" transform="rotate(148.7 364 303)"/>
<line x1="364" y1="143" x2="364" y2="158" transform="rotate(211.8 364 303)"/>
<line x1="364" y1="143" x2="364" y2="158" transform="rotate(257.4 364 303)"/>
</g>
<g font-size="7.5" text-anchor="middle">
<rect x="352" y="146.5" width="24" height="9" fill="#fff"/><text x="364" y="154">LSC</text>
<g transform="rotate(-54.3 364 303)"><rect x="354" y="450.5" width="20" height="9" fill="#fff"/><text x="364" y="458">IRA</text></g>
<rect x="352" y="450.5" width="24" height="9" fill="#fff"/><text x="364" y="458">SSC</text>
<g transform="rotate(55 364 303)"><rect x="354" y="450.5" width="20" height="9" fill="#fff"/><text x="364" y="458">IRB</text></g>
</g>
</g>
<g id="title" text-anchor="middle">
<text x="364" y="282" font-size="14.5" font-weight="bold" font-style="italic">Gangneung</text>
<text x="364" y="307" font-size="14.5">chloroplast genome</text>
<text x="364" y="331" font-size="14.5">161,012 bp</text>
</g>
</g>
</svg>
